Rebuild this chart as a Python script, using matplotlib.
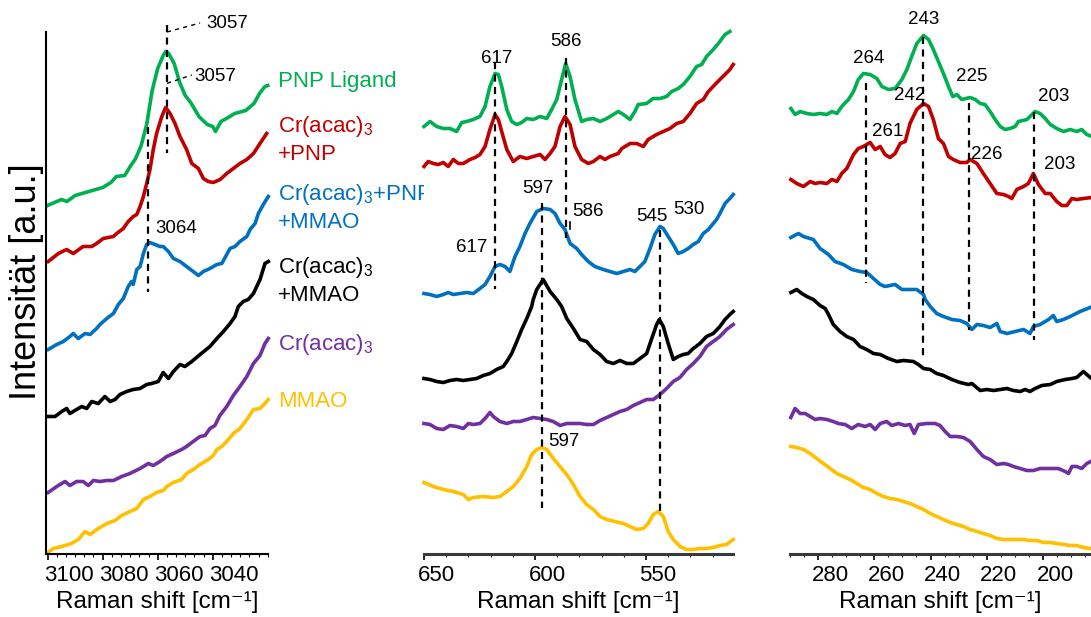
import matplotlib.pyplot as plt
import matplotlib.transforms as mtransforms
from matplotlib.ticker import AutoMinorLocator

plt.rcParams["font.family"] = ["Liberation Sans", "DejaVu Sans"]
plt.rcParams["mathtext.fontset"] = "custom"
plt.rcParams["mathtext.rm"] = "Liberation Sans"
plt.rcParams["mathtext.it"] = "Liberation Sans:italic"
plt.rcParams["mathtext.bf"] = "Liberation Sans:bold"

GREEN = "#00B050"
RED = "#C00000"
BLUE = "#0070C0"
BLACK = "#000000"
PURPLE = "#7030A0"
YELLOW = "#FFC000"

# --- C-H region (3100-3020 cm-1) ---
ch_wn_pnp = [3100, 3095, 3093, 3090, 3085, 3080, 3077, 3075, 3072, 3070, 3068, 3066, 3064, 3062, 3060, 3058, 3057,
             3056, 3054, 3052, 3050, 3048, 3045, 3042, 3040, 3039, 3037, 3035, 3032, 3028, 3025, 3023, 3021, 3020]
ch_pnp = [348, 354, 352, 358, 362, 366, 371, 377, 378, 387, 395, 408, 429, 463, 485, 498, 502,
          500, 490, 471, 458, 451, 437, 429, 427, 422, 432, 435, 440, 443, 450, 460, 467, 468]

ch_wn_cr_pnp = [3099.8, 3096.1, 3093.1, 3090.7, 3087.1, 3084, 3082.2, 3079.8, 3076.1, 3074.9, 3072.5, 3070.7, 3068.9,
                3067.6, 3066.4, 3065.2, 3064, 3062.8, 3061.6, 3060.4, 3058.5, 3057.1, 3055.5, 3053.7, 3051.9, 3049.5,
                3047.6, 3045.2, 3043.4, 3041.6, 3039.8, 3037.3, 3034.9, 3032.5, 3030.1, 3027.6, 3025.2, 3022.8, 3020.4]
ch_cr_pnp = [292, 300, 304, 300, 307, 307, 310, 315, 317, 320, 325, 332, 337,
             339, 347, 357, 370, 384, 404, 420, 437, 446, 440, 430, 417, 404,
             390, 385, 375, 372, 371, 374, 380, 385, 390, 394, 400, 410, 420]

ch_wn_cr_pnp_mmao = [3099.8, 3096.7, 3094.3, 3091.9, 3090.7, 3088.9, 3086.4, 3084.6, 3082.2, 3081, 3078.5, 3076.1,
                     3074.3, 3072.5, 3070.7, 3069.5, 3068.9, 3067.6, 3066.4, 3065.2, 3064, 3062.8, 3061, 3059.2, 3058,
                     3056.1, 3054.3, 3051.9, 3049.5, 3047.1, 3045.2, 3043.4, 3041, 3038.5, 3036.7, 3034.9, 3033.7,
                     3031.9, 3030.1, 3027.6, 3026.4, 3024.6, 3023.4, 3021.6, 3019.8]
ch_cr_pnp_mmao = [204, 209, 212, 217, 220, 215, 220, 219, 225, 229, 235, 240,
                  249, 255, 267, 272, 269, 284, 287, 300, 309, 311, 309, 307, 307,
                  302, 295, 292, 287, 282, 278, 282, 285, 289, 290, 299, 305,
                  307, 312, 317, 324, 330, 340, 349, 357]

ch_wn_cr_mmao = [3099.8, 3097.3, 3094.9, 3093.1, 3091.9, 3089.5, 3087.6, 3085.8, 3084, 3081.6, 3079.2, 3077.3, 3075.5,
                 3073.7, 3071.3, 3068.9, 3066.4, 3064, 3062.2, 3059.8, 3058, 3056.1, 3054.3, 3051.9, 3050.1, 3047.6,
                 3044.6, 3041, 3038.5, 3036.1, 3033.7, 3031.9, 3030.7, 3028.9, 3027.1, 3025.2, 3022.8, 3021, 3019.8]
ch_cr_mmao = [137, 137, 142, 145, 140, 144, 147, 145, 152, 150, 157, 152, 154,
              159, 162, 164, 165, 169, 170, 172, 181, 175, 182, 189, 187, 192,
              199, 207, 215, 222, 230, 237, 247, 252, 254, 260, 274, 290, 292]

ch_wn_cr = [3099.8, 3096.7, 3093.7, 3091.9, 3089.5, 3087.1, 3085.2, 3083.4, 3081, 3078.5, 3076.1, 3073.1, 3070.1,
            3066.4, 3063.4, 3061.6, 3059.2, 3056.7, 3054.3, 3051.3, 3049.5, 3047.1, 3044.6, 3042.8, 3041, 3039.2,
            3037.4, 3034.9, 3032.5, 3030.1, 3027.6, 3025.2, 3022.8, 3021, 3019.8]
ch_cr = [61, 67, 72, 68, 72, 72, 68, 73, 72, 73, 73, 77, 80,
         85, 90, 88, 92, 97, 100, 104, 107, 112, 117, 118, 125, 128,
         138, 147, 158, 167, 177, 190, 198, 210, 215]

ch_wn_mmao = [3099.8, 3098, 3094.9, 3091.3, 3088.9, 3086.4, 3084.6, 3081.6, 3078.5, 3075.5, 3073.1, 3070.1, 3067.6,
              3065.2, 3062.8, 3060.4, 3058, 3056.7, 3054.3, 3051.3, 3049.5, 3047.1, 3044.6, 3041.6, 3039.8, 3038.5,
              3036.7, 3034.9, 3032.5, 3030.1, 3027.6, 3025.2, 3022.8, 3021, 3019.8]
ch_mmao = [1, 5, 7, 10, 14, 22, 19, 25, 30, 33, 38, 42, 45,
           54, 57, 61, 63, 67, 71, 74, 80, 84, 89, 94, 98, 104,
           107, 112, 120, 125, 134, 144, 145, 150, 154]

# --- 650-510 cm-1 region ---
mid_wn_pnp = [650, 647.3, 644.3, 641.3, 638.3, 635.3, 633, 630.8, 627.8, 624.8, 622.5, 620.3, 618, 616.5, 615,
              612.7, 610.5, 608.2, 606, 603.7, 600.8, 597.7, 594.7, 592.5, 590.2, 588, 586.2, 584.2, 582, 579,
              576.7, 573.7, 570.7, 567.7, 564.7, 562.5, 560.2, 557.2, 555, 553.5, 549.7, 546.8, 543.7, 540.7,
              538.4, 535.5, 533.2, 530.2, 527.2, 524.9, 522.7, 519.7, 517.4, 514.4, 512.2]
mid_pnp = [427, 432, 427, 425, 425, 422, 431, 432, 434, 437, 447, 467, 480, 479, 467,
           444, 432, 429, 431, 435, 434, 437, 435, 444, 454, 474, 490, 477, 454, 432,
           434, 435, 432, 435, 439, 442, 439, 434, 442, 449, 450, 455, 455, 457,
           462, 465, 469, 477, 487, 489, 497, 504, 510, 519, 522]

mid_wn_cr_pnp = [650, 648.1, 645.8, 643.6, 641.3, 639.1, 636.8, 634.5, 632.3, 629.3, 627, 624.8, 622.5, 620.3,
                 618, 616.5, 615, 612.7, 609.8, 606.8, 603.7, 600.8, 597.7, 595.5, 593.2, 591, 588.7, 586.5,
                 584.2, 582, 579, 576, 573.7, 570.7, 568.5, 566.2, 562.5, 560.9, 557.2, 554.2, 551.2, 549,
                 545.2, 542.2, 539.2, 536.2, 533.2, 530.2, 527.2, 524.2, 521.9, 518.9, 516.7, 514.4, 512.2, 510.7]
mid_cr_pnp = [387, 392, 390, 389, 391, 387, 394, 390, 390, 394, 396, 399, 407, 424,
              439, 434, 422, 404, 392, 397, 395, 397, 399, 394, 400, 407, 427, 437,
              429, 407, 394, 390, 392, 397, 394, 397, 400, 405, 410, 410, 407, 414,
              419, 422, 425, 430, 432, 440, 450, 454, 462, 469, 474, 479, 484, 489]

mid_wn_cr_pnp_mmao = [650, 647.3, 644.3, 641.3, 639.1, 636.8, 633.8, 630.8, 627.8, 624.8, 622.5, 620.3, 618, 615.8,
                      613.5, 611.3, 609, 606.8, 604.5, 602.3, 599.2, 596.3, 593.2, 591, 588.7, 586.5, 584.2, 581.2,
                      579, 576, 573, 569.2, 566.2, 563.2, 560.2, 557.2, 555, 552.7, 550.5, 548.2, 546, 543.7, 542.2,
                      540, 537.7, 535.5, 533.2, 531, 528.7, 526.4, 524.2, 521.9, 519.7, 518.2, 516.7, 514.4, 512.2,
                      510.7]
mid_cr_pnp_mmao = [260, 259, 257, 259, 261, 259, 260, 261, 260, 265, 269, 277, 287, 289,
                   287, 282, 297, 307, 320, 330, 342, 345, 344, 340, 330, 324, 310, 305,
                   299, 292, 287, 284, 282, 280, 282, 284, 282, 287, 292, 305, 319, 327, 325,
                   317, 309, 300, 302, 305, 309, 312, 320, 324, 330, 334, 340, 350, 355,
                   359]

mid_wn_cr_mmao = [650, 647.3, 644.3, 641.3, 638.3, 635.3, 632.3, 629.3, 626.3, 623.3, 620.3, 617.3, 614.3, 612.7,
                  610.5, 608.2, 606, 603.7, 601.5, 600.8, 599.2, 596.3, 593.2, 590.2, 588, 585.7, 582.7, 579.7,
                  576.7, 573.7, 570.7, 567.7, 564.7, 561.7, 558.7, 555.7, 552.7, 549.7, 547.4, 545.2, 544, 542.2,
                  540, 537.7, 535.5, 533.2, 531, 528.7, 525.7, 522.7, 519.7, 516.7, 514.4, 512.2, 510.7]
mid_cr_mmao = [175, 174, 172, 171, 173, 174, 173, 174, 175, 178, 180, 184, 187, 192,
               200, 212, 224, 235, 247, 254, 264, 274, 262, 254, 247, 235, 225, 214,
               212, 204, 199, 192, 190, 193, 190, 190, 195, 200, 215, 229, 234, 227,
               210, 194, 197, 199, 200, 205, 210, 217, 220, 227, 234, 239, 242]

mid_wn_cr = [650, 647.3, 644.3, 641.3, 638.3, 635.3, 632.3, 630, 627.8, 624.8, 622.5, 620.3, 618.8, 615.8, 612.7,
             609.8, 606.8, 603.7, 600.8, 597.7, 594.7, 591.8, 588.7, 585.7, 582.7, 579.7, 576.7, 573.7, 570.7,
             567.7, 564.7, 561.7, 558.7, 555.7, 552.7, 549.7, 546.7, 543.7, 540.7, 537.7, 534.7, 531.7, 528.7,
             525.7, 522.7, 519.7, 516.7, 513.7, 510.7]
mid_cr = [130, 129, 125, 124, 128, 127, 125, 130, 129, 130, 135, 141, 137, 132, 130,
          132, 132, 134, 136, 135, 134, 132, 128, 130, 130, 130, 129, 129, 133,
          136, 139, 142, 144, 148, 151, 154, 154, 159, 165, 172, 176, 184, 190,
          197, 207, 212, 217, 224, 229]

mid_wn_mmao = [650, 645.8, 641.3, 636.8, 632.3, 630, 627.8, 623.3, 618.8, 615.8, 612.7, 609.8, 606.8, 603.7, 601.5,
               599.2, 597, 594.7, 591.8, 588.7, 585.7, 582.7, 579.7, 576.7, 573.7, 570.7, 567.7, 564, 560.2, 557.2,
               554.2, 551.2, 549, 546.7, 544.5, 542.2, 540, 537.7, 534.7, 531.7, 528.7, 525.7, 522.7, 519.7, 516.7,
               513.7, 510.7]
mid_mmao = [71, 67, 64, 62, 59, 54, 56, 57, 56, 57, 62, 67, 75, 87, 99,
            104, 106, 104, 95, 87, 79, 69, 57, 49, 44, 37, 34, 32, 30, 27,
            24, 25, 30, 39, 42, 37, 22, 14, 7, 4, 4, 5, 5, 6, 8,
            9, 14]

# --- 290-183 cm-1 region ---
low_wn_pnp = [289.7, 288.2, 286.4, 284, 281.7, 279.3, 276.9, 275.1, 273.3, 271.6, 269.2, 267.4, 265.7, 263.9, 261.5,
              259.1, 257.3, 255, 252.6, 250.2, 248.4, 246.7, 244.9, 242.5, 240.7, 239, 237.2, 235.4, 233.6, 232.1,
              230.6, 228.9, 225.9, 224.1, 222.3, 220.6, 218.8, 217, 215.2, 213.5, 211.7, 209.9, 208.7, 205.7,
              202.8, 201, 199.2, 197.4, 195.1, 192.7, 190.3, 187.9, 186.2, 184.4, 182.6]
low_pnp = [445, 439, 442, 440, 439, 440, 439, 442, 440, 447, 454, 462, 474, 480, 479,
           475, 467, 464, 465, 474, 484, 497, 510, 518, 514, 504, 492, 480, 467, 457,
           459, 454, 456, 454, 450, 449, 442, 434, 427, 424, 425, 427, 432, 434,
           442, 440, 435, 429, 425, 422, 424, 422, 424, 419, 417]

low_wn_cr_pnp = [289.7, 287.6, 285.2, 282.8, 281.1, 279.3, 276.9, 275.1, 273.3, 271.6, 269.8, 267.4, 265.7, 263.9,
                 261.5, 259.7, 257.9, 256.2, 254.4, 252.6, 250.8, 249, 247.3, 244.9, 242.5, 240.7, 239, 237.2,
                 235.4, 233.6, 231.9, 229.5, 227.1, 225.9, 223.5, 221.2, 218.8, 216.4, 214, 212.3, 211.1, 209.3,
                 206.9, 205.2, 203.4, 201.6, 199.2, 197.4, 195.1, 193.3, 191.5, 189.7, 188, 185.6, 182.6]
low_cr_pnp = [374, 370, 367, 372, 370, 371, 370, 374, 372, 380, 385, 399, 405, 407,
              411, 404, 407, 399, 396, 400, 410, 412, 430, 444, 450, 447, 434, 415,
              410, 397, 394, 391, 391, 394, 390, 380, 370, 360, 359, 357, 355, 364,
              367, 370, 380, 369, 360, 360, 352, 348, 348, 355, 354, 355, 356]

low_wn_cr_pnp_mmao = [289.7, 287, 285.2, 281.7, 279.3, 276.3, 274, 271, 268, 265.1, 262.7, 260.3, 257.9, 256.2,
                      254.4, 252.6, 250.2, 247.3, 244.9, 242.5, 241.9, 240.1, 237.8, 235.4, 232.4, 229.5, 227.1,
                      225.3, 223.5, 221.2, 218.8, 216.4, 215.2, 212.8, 209.9, 206.9, 204.6, 203.4, 201, 198,
                      196.3, 195.1, 192.7, 190.3, 186.8, 183.2]
low_cr_pnp_mmao = [316, 320, 317, 314, 305, 299, 292, 289, 284, 282, 281, 275, 269, 267,
                   268, 269, 264, 264, 264, 259, 254, 247, 240, 237, 234, 233, 230,
                   224, 229, 228, 226, 230, 222, 220, 222, 224, 220, 227, 229, 234,
                   238, 232, 234, 237, 242, 246]

low_wn_cr_mmao = [289.7, 287.6, 285.8, 284, 281.7, 279.3, 277.5, 276.3, 274.6, 272.2, 269.8, 267.4, 265.1, 262.7,
                  260.3, 257.9, 255, 252, 249.6, 246.1, 244.3, 242.5, 240.1, 237.8, 235.4, 232.4, 229.5, 226.5,
                  225.3, 222.3, 220, 217.6, 215.2, 212.8, 210.5, 208.1, 206.3, 204.6, 202.8, 200.4, 197.4, 195.1,
                  192.1, 189.7, 188, 185.6, 184.4, 183.2]
low_cr_mmao = [261, 264, 260, 257, 254, 248, 245, 239, 229, 222, 217, 214, 207, 204,
               200, 199, 195, 192, 193, 192, 189, 185, 184, 180, 178, 174, 171, 169,
               170, 163, 164, 163, 164, 165, 163, 162, 164, 162, 165, 168, 169, 172,
               174, 175, 176, 182, 179, 176]

low_wn_cr = [289.7, 288.2, 286.4, 284.6, 282.8, 281.1, 279.3, 276.9, 274.6, 272.8, 270.4, 268, 265.7, 263.3,
             261.5, 259.7, 257.9, 255.6, 253.8, 251.4, 249, 247.3, 245.8, 244.3, 241.3, 238.4, 236.6, 234.8, 233,
             230.6, 228.3, 225.9, 223.5, 221.2, 218.8, 216.4, 214, 212.3, 210.5, 208.1, 205.7, 203.4, 201, 198.6,
             196.3, 194.5, 192.1, 190.9, 189.7, 188, 186.2, 184.4, 183]
low_cr = [136, 145, 140, 140, 137, 134, 135, 134, 132, 130, 129, 125, 129, 127,
          129, 124, 130, 132, 128, 130, 128, 129, 120, 129, 130, 130, 128, 122, 117,
          117, 116, 112, 104, 97, 94, 89, 90, 89, 87, 85, 83, 83, 85, 85,
          85, 85, 82, 80, 87, 87, 85, 90, 92]

low_wn_mmao = [289.7, 287.6, 285.2, 282.8, 280.5, 278.1, 275.7, 273.3, 271, 268.6, 266.2, 263.9, 261.5, 259.1,
               256.8, 254.4, 252, 249.6, 247.3, 244.9, 242.5, 240.1, 237.8, 235.4, 233, 230.6, 228.3, 225.9,
               223.5, 221.2, 218.8, 216.4, 214, 211.7, 209.3, 207, 204.6, 202.2, 199.8, 197.4, 195.1, 192.7,
               190.3, 187.9, 185.6, 183.2]
low_mmao = [107, 106, 104, 100, 95, 90, 85, 80, 77, 74, 70, 66, 64, 60,
            57, 55, 54, 52, 50, 47, 44, 40, 37, 34, 31, 29, 27, 24,
            22, 20, 18, 15, 14, 14, 14, 14, 13, 13, 11, 11, 10, 9,
            8, 8, 6, 5]

# peak markers: wavenumber, top and bottom of dashed line
ch_marks = [(3056.6, 528.5, 400.5), (3063.5, 426.5, 261.5)]
mid_marks = [(618, 491.5, 264.5), (586, 495.5, 315.5), (596.8, 350.5, 45.5), (543.7, 323.5, 40.5)]
low_marks = [(262.9, 470.5, 270.5), (242.6, 516.5, 195.5), (226.3, 450.5, 223.5), (203.1, 441.5, 213.5)]

# peak labels: text, x, baseline y
ch_peaks = [("3057", 3034.8, 525.8), ("3057", 3039.2, 472.8), ("3064", 3053.3, 320.8)]
mid_peaks = [("617", 617.1, 490.8), ("586", 586, 507.8), ("597", 598.6, 360.8), ("586", 576.1, 337.8),
             ("617", 628.4, 301.8), ("545", 547.3, 332.8), ("530", 530.6, 339.8), ("597", 586.9, 107.8)]
low_peaks = [("243", 242.3, 529.8), ("264", 261.9, 490.8), ("225", 225.2, 472.8), ("203", 196, 452.8),
             ("242", 247.3, 453.8), ("261", 255.4, 417.8), ("226", 219.9, 394.8), ("203", 194.2, 384.8)]

samples = [
    ("PNP Ligand", None, GREEN),
    ("Cr(acac)$\\mathregular{_3}$", "+PNP", RED),
    ("Cr(acac)$\\mathregular{_3}$+PNP", "+MMAO", BLUE),
    ("Cr(acac)$\\mathregular{_3}$", "+MMAO", BLACK),
    ("Cr(acac)$\\mathregular{_3}$", None, PURPLE),
    ("MMAO", None, YELLOW),
]
legend_base = [466.5, 421.5, 353.5, 280.5, 203.5, 146.5]

YMAX = 521.5
DPI = 100


def draw_panel(ax, series, xlim, ticks, minor, shift_px):
    for x, y, color in series:
        ax.plot(x, y, color=color, lw=2.6, solid_joinstyle="round", clip_on=False, zorder=2)
    ax.set_xlim(*xlim)
    ax.set_ylim(0, YMAX)
    ax.set_yticks([])
    ax.set_xticks(ticks)
    ax.set_xticklabels([str(t) for t in ticks])
    ax.xaxis.set_minor_locator(AutoMinorLocator(minor))
    ax.tick_params(axis="x", which="major", direction="out", length=4, width=1.2, labelsize=16, pad=4.2)
    ax.tick_params(axis="x", which="minor", direction="out", length=2, width=0.8)
    for side in ("top", "right", "left"):
        ax.spines[side].set_visible(False)
    ax.set_xlabel("Raman shift [cm⁻¹]", fontsize=17.5, labelpad=4)
    shift = mtransforms.ScaledTranslation(shift_px / DPI, 0, ax.figure.dpi_scale_trans)
    for tick in ax.xaxis.get_major_ticks():
        tick.label1.set_transform(tick.label1.get_transform() + shift)


def draw_marks(ax, marks, peaks):
    for x, y0, y1 in marks:
        ax.plot([x, x], [y0, y1], color="black", lw=1.6, dashes=(3.2, 2.4), clip_on=False, zorder=4)
    for text, x, y in peaks:
        ax.text(x, y, text, fontsize=13.5, ha="center", va="baseline", zorder=5)


def main():
    fig = plt.figure(figsize=(10.91, 6.17), dpi=DPI)
    bottom = 63.5 / 617
    height = YMAX / 617
    ax1 = fig.add_axes([46 / 1091, bottom, 222 / 1091, height])
    ax2 = fig.add_axes([424 / 1091, bottom, 309 / 1091, height])
    ax3 = fig.add_axes([790 / 1091, bottom, 301 / 1091, height])

    colors = [GREEN, RED, BLUE, BLACK, PURPLE, YELLOW]
    ch = [(ch_wn_pnp, ch_pnp), (ch_wn_cr_pnp, ch_cr_pnp), (ch_wn_cr_pnp_mmao, ch_cr_pnp_mmao),
          (ch_wn_cr_mmao, ch_cr_mmao), (ch_wn_cr, ch_cr), (ch_wn_mmao, ch_mmao)]
    mid = [(mid_wn_pnp, mid_pnp), (mid_wn_cr_pnp, mid_cr_pnp), (mid_wn_cr_pnp_mmao, mid_cr_pnp_mmao),
           (mid_wn_cr_mmao, mid_cr_mmao), (mid_wn_cr, mid_cr), (mid_wn_mmao, mid_mmao)]
    low = [(low_wn_pnp, low_pnp), (low_wn_cr_pnp, low_cr_pnp), (low_wn_cr_pnp_mmao, low_cr_pnp_mmao),
           (low_wn_cr_mmao, low_cr_mmao), (low_wn_cr, low_cr), (low_wn_mmao, low_mmao)]

    draw_panel(ax1, [(x, y, c) for (x, y), c in zip(ch, colors)], (3100.6, 3019.9), [3100, 3080, 3060, 3040], 6, 21)
    draw_panel(ax2, [(x, y, c) for (x, y), c in zip(mid, colors)], (650, 510.8), [650, 600, 550], 5, 12)
    draw_panel(ax3, [(x, y, c) for (x, y), c in zip(low, colors)], (290, 182.9), [280, 260, 240, 220, 200], 4, 12)

    ax1.spines["left"].set_visible(True)
    for s in ("left", "bottom"):
        ax1.spines[s].set_color("black")
        ax1.spines[s].set_linewidth(1.5)
    for ax in (ax2, ax3):
        ax.spines["bottom"].set_color("#3a3a3a")
        ax.spines["bottom"].set_linewidth(2.2)

    draw_marks(ax1, ch_marks, ch_peaks)
    draw_marks(ax2, mid_marks, mid_peaks)
    draw_marks(ax3, low_marks, low_peaks)

    # leader lines to the 3057 labels and the small 586 tick
    ax1.plot([3056.6, 3044.6], [521.5, 530.5], color="black", lw=1.0, dashes=(3, 3), clip_on=False)
    ax1.plot([3056.6, 3047.6], [470.2, 478.5], color="black", lw=1.0, dashes=(3, 3), clip_on=False)
    ax2.plot([584.2, 584.2], [331.5, 324.5], color="black", lw=1.2, clip_on=False)

    # sample labels next to the first panel
    for (line1, line2, color), yb in zip(samples, legend_base):
        ax1.text(3016.3, yb, line1, color=color, fontsize=16, ha="left", va="baseline", clip_on=False)
        if line2:
            ax1.text(3016.3, yb - 28, line2, color=color, fontsize=16, ha="left", va="baseline", clip_on=False)

    fig.text(27 / 1091, 1 - 282 / 617, "Intensität [a.u.]", rotation=90, fontsize=26, ha="center", va="center")

    fig.savefig("out.png", dpi=DPI)
    plt.close()


if __name__ == "__main__":
    main()
